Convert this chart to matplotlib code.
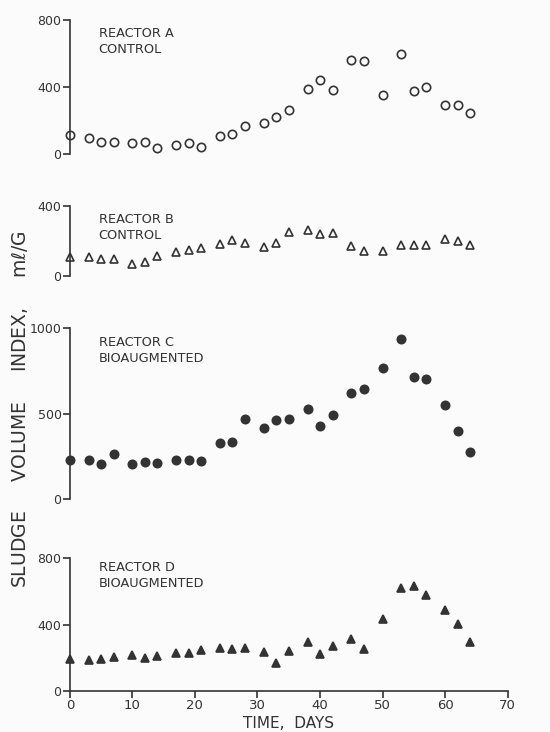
import matplotlib.pyplot as plt

days = [0, 3, 5, 7, 10, 12, 14, 17, 19, 21, 24, 26, 28, 31, 33, 35,
        38, 40, 42, 45, 47, 50, 53, 55, 57, 60, 62, 64]

svi_a = [112, 98, 74, 74, 68, 70, 38, 52, 66, 44, 106, 120, 168, 184, 224, 264,
         388, 444, 382, 562, 556, 350, 600, 376, 398, 290, 290, 244]
svi_b = [106, 108, 99, 99, 70, 82, 116, 135, 148, 161, 182, 205, 190, 163, 186, 248,
         262, 241, 243, 173, 144, 144, 176, 176, 176, 210, 201, 174]
svi_c = [229, 230, 203, 262, 203, 215, 213, 230, 227, 225, 330, 336, 471, 418, 463, 467,
         529, 426, 490, 623, 646, 767, 939, 717, 705, 549, 398, 277]
svi_d = [190, 183, 190, 204, 217, 200, 210, 229, 229, 246, 259, 251, 259, 232, 168, 242,
         297, 221, 269, 310, 255, 432, 622, 633, 578, 490, 402, 297]

ink = '#333333'
plt.rcParams['font.family'] = 'DejaVu Sans'
plt.rcParams['font.size'] = 9

fig = plt.figure(figsize=(5.5, 7.32), dpi=100)
fig.patch.set_facecolor('#fbfbfb')

left, width = 0.127, 0.796
panels = [
    # bottom, height, data, ymax, yticks, marker, fill, title, text y
    (0.7896, 0.183, svi_a, 800, [0, 400, 800], 'o', 'none', ['REACTOR A', 'CONTROL'], 0.95),
    (0.623, 0.096, svi_b, 400, [0, 400], '^', 'none', ['REACTOR B', 'CONTROL'], 0.90),
    (0.3183, 0.2332, svi_c, 1000, [0, 500, 1000], 'o', ink, ['REACTOR C', 'BIOAUGMENTED'], 0.955),
    (0.0564, 0.1809, svi_d, 800, [0, 400, 800], '^', ink, ['REACTOR D', 'BIOAUGMENTED'], 0.98),
]

for i, (bot, h, vals, ymax, yt, mk, fc, title, ty) in enumerate(panels):
    ax = fig.add_axes([left, bot, width, h])
    ax.set_facecolor('none')
    ax.plot(days, vals, linestyle='none', marker=mk, markersize=6,
            markerfacecolor=fc, markeredgecolor=ink, markeredgewidth=1.2, clip_on=False)
    ax.set_xlim(0, 70)
    ax.set_ylim(0, ymax)
    ax.set_yticks(yt)
    for s in ['top', 'right']:
        ax.spines[s].set_visible(False)
    ax.spines['left'].set_color(ink)
    ax.spines['left'].set_linewidth(1.2)
    ax.tick_params(axis='y', direction='out', length=5, width=1.2, color=ink,
                   labelcolor=ink, labelsize=9, pad=1)
    if i < 3:
        ax.spines['bottom'].set_visible(False)
        ax.set_xticks([])
    else:
        ax.spines['bottom'].set_color(ink)
        ax.spines['bottom'].set_linewidth(1.2)
        ax.set_xticks(range(0, 71, 10))
        ax.tick_params(axis='x', direction='out', length=5, width=1.2, color=ink,
                       labelcolor=ink, labelsize=9.5, pad=1)
    ax.text(0.066, ty, '\n'.join(title), transform=ax.transAxes, ha='left', va='top',
            color=ink, fontsize=9.3, linespacing=1.3)

fig.text(0.525, 0.011, 'TIME,  DAYS', ha='center', va='center', color=ink, fontsize=11)
fig.text(0.035, 0.441, 'SLUDGE     VOLUME     INDEX,     m$\\ell$/G', rotation=90,
         ha='center', va='center', color=ink, fontsize=13.5)

fig.savefig('out.png', dpi=100, facecolor=fig.get_facecolor())
